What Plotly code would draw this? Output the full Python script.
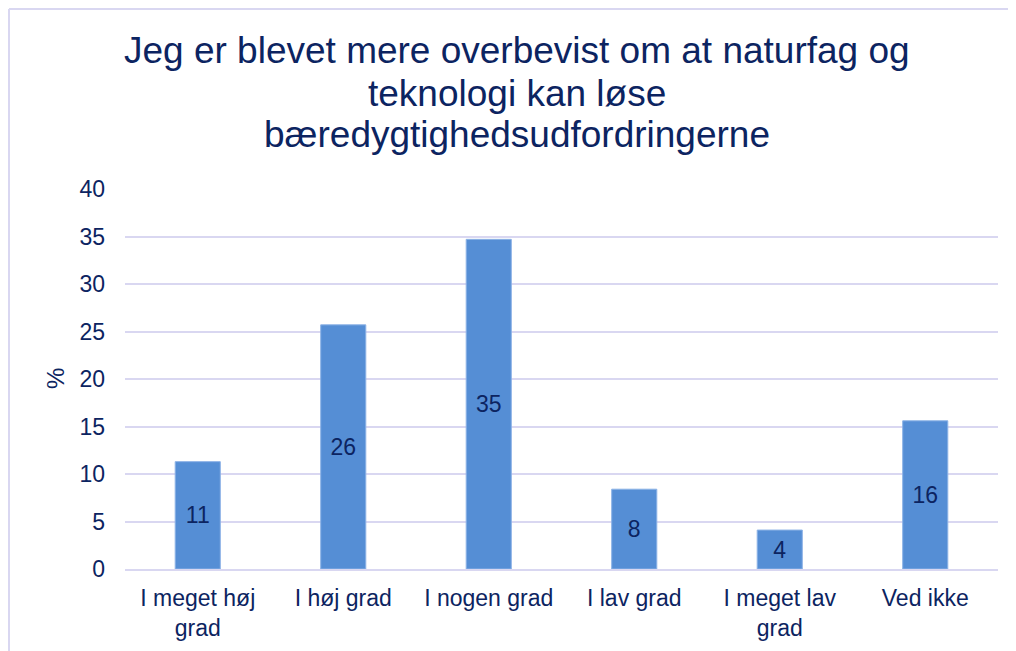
import plotly.graph_objects as go

categories = ["I meget høj<br>grad", "I høj grad", "I nogen grad", "I lav grad", "I meget lav<br>grad", "Ved ikke"]
values = [11.3, 25.7, 34.7, 8.4, 4.1, 15.6]
title_lines = [
    "Jeg er blevet mere overbevist om at naturfag og",
    "teknologi kan løse",
    "bæredygtighedsudfordringerne",
]
y_ticks = [0, 5, 10, 15, 20, 25, 30, 35, 40]

navy = "#0c2461"
grid = "#d9d7f1"
font_family = "Liberation Sans, Arial, sans-serif"

# page body offset (8px) compensation
L, R, T, B = 117, 26, 181, 90
W, H = 1016, 651
pw = W - L - R
ph = H - T - B


def px_x(x):
    return (x - L) / pw


def px_y(y):
    return (H - B - y) / ph


fig = go.Figure(
    go.Bar(
        x=categories,
        y=values,
        width=0.31,
        marker=dict(color="#558ed5", line=dict(color="#8cb2e6", width=1)),
        texttemplate="%{y:.0f}",
        textposition="inside",
        insidetextanchor="middle",
        textfont=dict(family=font_family, size=23, color=navy),
        textangle=0,
    )
)

fig.update_layout(
    width=W,
    height=H,
    margin=dict(l=L, r=R, t=T, b=B),
    paper_bgcolor="white",
    plot_bgcolor="white",
    font=dict(family=font_family, color=navy, size=23),
    showlegend=False,
)
fig.update_yaxes(
    range=[0, 40],
    tickvals=y_ticks,
    showgrid=True,
    gridcolor=grid,
    gridwidth=1.5,
    zeroline=False,
    showline=False,
    ticks="",
    ticklabelstandoff=19,
    tickfont=dict(family=font_family, size=23, color=navy),
    fixedrange=True,
)
fig.update_xaxes(
    showline=True,
    linecolor=grid,
    linewidth=2,
    ticks="",
    ticklabelstandoff=7,
    tickfont=dict(family=font_family, size=23, color=navy),
)

# title lines
for line, cy in zip(title_lines, [42, 85, 126.5]):
    fig.add_annotation(
        text=line,
        xref="paper", yref="paper",
        x=px_x(509), y=px_y(cy),
        xanchor="center", yanchor="middle",
        showarrow=False,
        font=dict(family=font_family, size=37, color=navy),
    )

fig.add_annotation(
    text="%",
    xref="paper",
    yref="paper",
    x=px_x(47),
    y=0.5,
    textangle=-90,
    showarrow=False,
    font=dict(family=font_family, size=24, color=navy),
    xanchor="center",
    yanchor="middle",
)
# chart border
fig.add_shape(
    type="line", xref="paper", yref="paper",
    x0=px_x(1), x1=px_x(W + 5),
    y0=px_y(1), y1=px_y(1),
    line=dict(color=grid, width=2),
)
fig.add_shape(
    type="line", xref="paper", yref="paper",
    x0=px_x(1), x1=px_x(1),
    y0=px_y(1), y1=px_y(H + 10),
    line=dict(color=grid, width=2),
)

fig.write_html("out.html")
